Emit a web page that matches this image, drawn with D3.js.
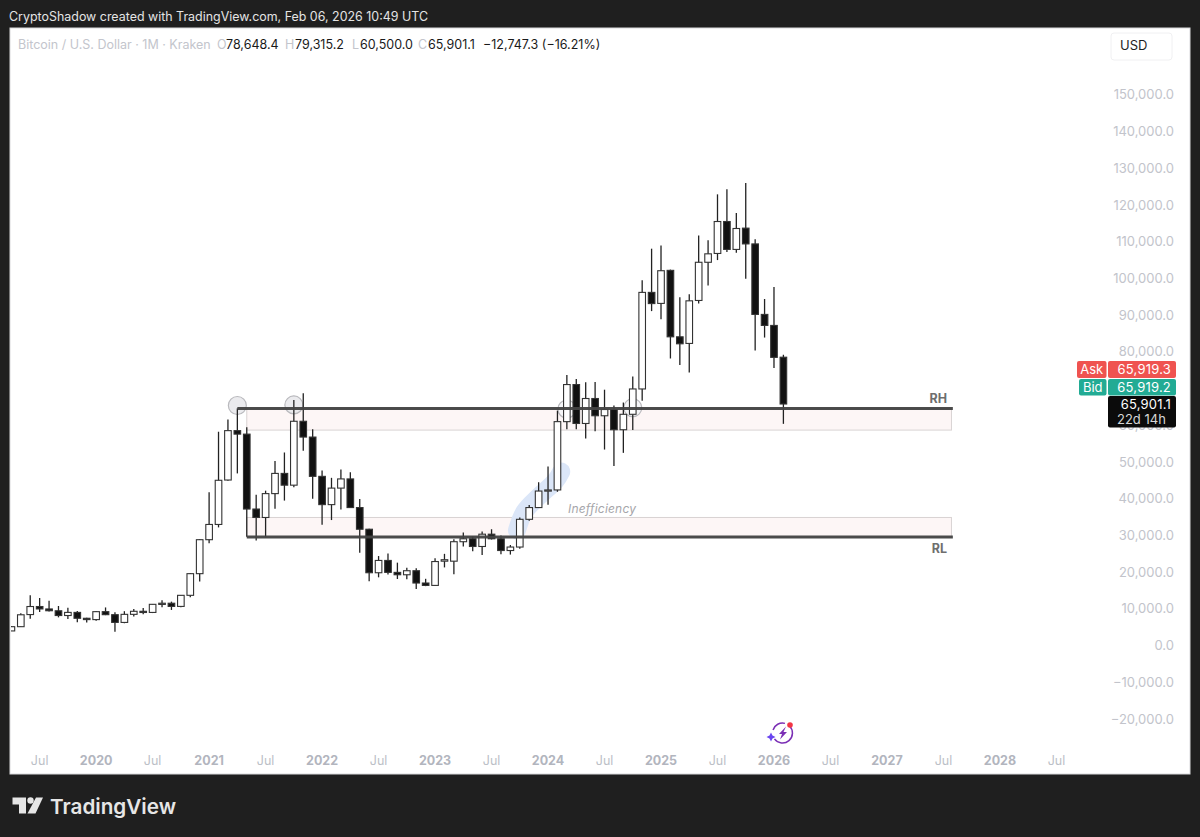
<!DOCTYPE html>
<html lang="en">
<head>
<meta charset="utf-8">
<title>Bitcoin / U.S. Dollar 1M</title>
<script src="https://d3js.org/d3.v7.min.js"></script>
<style>
  html, body { margin: 0; padding: 0; background: #1f1f1f; }
  svg { display: block; }
  text { font-family: Inter, "Noto Sans", sans-serif; }
</style>
</head>
<body>
<script>
// monthly candles, first one is Apr 2019
var open = [4100,5260,8560,10750,10090,9590,8300,9150,7550,7190,9350,8530,6420,8620,9450,9140,11350,11650,10780,13800,19700,
  28950,33100,45200,58650,57700,37300,35000,41500,47000,43800,61200,56900,
  46200,38500,43000,45500,37700,31800,19950,23300,20050,19400,20500,17150,
  16500,23100,23100,28400,29200,27100,30450,29200,26000,26950,34500,37700,
  42200,42500,61100,71200,60600,67400,62700,64400,58900,63100,70000,96300,
  93300,102300,84200,82400,94100,104500,106900,115600,108000,113800,109500,90300,
  87300,78648];
var close = [5260,8500,10750,10090,9600,8300,9150,7550,7190,9350,8530,6420,8620,9450,9140,11350,11650,10780,13800,19700,28950,
  33100,45130,58650,57700,37300,35000,41500,47000,43800,61200,56900,46200,
  38500,43000,45500,37700,31800,19950,23300,20050,19400,20500,17150,16500,
  23000,23500,28400,29200,27100,30450,29200,26000,26950,34500,37700,42200,
  42500,61100,71200,60600,67400,62700,64400,58900,63100,70000,96300,93250,
  102200,84200,82300,94000,104500,106800,115600,108000,113700,109500,90300,87300,
  78600,65901];
var high = [5450,8900,13800,13070,12300,10900,10400,9500,7700,9550,10500,9170,9480,10070,10350,11400,12440,12080,13880,19900,29100,
  41900,58350,61700,64700,59600,41200,42300,50400,52700,67000,68800,59000,
  47800,45800,48100,47300,40000,31900,24500,25200,22700,21300,21200,18300,
  23900,25100,29100,30900,29800,31200,31800,30100,27500,35000,38400,44600,
  48900,64100,73800,72700,71800,71900,69800,65500,66300,73400,99600,108200,
  109100,102500,95000,95800,111800,110500,123000,124400,117900,126100,110800,94500,
  97800,79315];
var low = [4080,5200,7430,9260,9400,7800,7350,6500,6430,6900,8400,3900,6200,8000,8650,8970,10540,9820,10530,13250,17570,
  28000,32300,45000,47000,29760,28700,29600,37400,39600,43200,53200,40100,
  33000,34300,37200,37700,25400,17600,18700,19500,18250,18200,15500,16300,
  16400,21400,19550,27100,25800,24800,29000,25000,24900,26500,34100,37600,
  38500,42000,59000,59000,56500,58500,53500,49000,52600,58800,66800,91200,
  89000,78300,76500,74500,93300,98200,105100,107300,107100,100000,80500,84000,
  75700,60500];

var priceTicks = d3.range(-20000, 150001, 10000);
var tickIndex = d3.range(3, 112, 6);
var tickLabels = ["Jul","2020","Jul","2021","Jul","2022","Jul","2023","Jul","2024","Jul","2025","Jul","2026","Jul","2027","Jul","2028","Jul"];

// drawing: levels and zones, in month index / price
var rhLevel = 64680, rlLevel = 29680;
var upperZone = [64680, 58800], lowerZone = [35000, 29680];
var zoneMonths = [25, 99.85];
var rhStart = 24, rlStart = 25, levelEnd = 100;
var touchCircles = [[24, 65500], [30, 65650], [59, 64500], [66, 64900]];
var inefficiencyPath = [[53.7, 31500], [54.5, 36570], [56, 40660], [57.8, 45000], [58.4, 47500]];

var w = 1200, h = 837;
var svg = d3.select("body").append("svg").attr("width", w).attr("height", h);

var x = d3.scaleLinear().domain([0, 82]).range([11.4, 783.4]);
var y = d3.scaleLinear().domain([0, 150000]).range([646, 95.2]);

var bodyW = 6.6;

svg.append("rect").attr("x", 10).attr("y", 28).attr("width", 1180).attr("height", 746)
  .attr("fill", "#ffffff").attr("stroke", "#d9d9dc").attr("stroke-width", 1);

// clip to the plot area
svg.append("clipPath").attr("id", "plot").append("rect")
  .attr("x", 11).attr("y", 29).attr("width", 1178).attr("height", 744);
var plot = svg.append("g").attr("clip-path", "url(#plot)");

// zones
[upperZone, lowerZone].forEach(function(z) {
  plot.append("rect")
    .attr("x", x(zoneMonths[0]))
    .attr("y", y(z[0]))
    .attr("width", x(zoneMonths[1]) - x(zoneMonths[0]))
    .attr("height", y(z[1]) - y(z[0]))
    .attr("fill", "#fdf6f6")
    .attr("stroke", "#d9d3d3")
    .attr("stroke-width", 1);
});

// blue brush behind the candles
plot.append("path")
  .attr("d", d3.line().x(function(d) { return x(d[0]); }).y(function(d) { return y(d[1]); }).curve(d3.curveCatmullRom)(inefficiencyPath))
  .attr("fill", "none").attr("stroke", "#dbe6f8").attr("stroke-width", 18)
  .attr("stroke-linecap", "round").attr("stroke-linejoin", "round");

// touch circles
plot.selectAll(".touch").data(touchCircles).enter().append("circle")
  .attr("class", "touch")
  .attr("cx", function(d) { return x(d[0]); })
  .attr("cy", function(d) { return y(d[1]); })
  .attr("r", 9)
  .attr("fill", function(d, i) { return i < 2 ? "#ebebee" : "#f6f6f8"; })
  .attr("stroke", "#b9b9bd").attr("stroke-width", 1.2);

// candles
var candles = plot.selectAll(".candle").data(open).enter().append("g").attr("class", "candle");

candles.append("line")
  .attr("x1", function(d, i) { return x(i); })
  .attr("x2", function(d, i) { return x(i); })
  .attr("y1", function(d, i) { return y(high[i]); })
  .attr("y2", function(d, i) { return y(low[i]); })
  .attr("stroke", "#222222").attr("stroke-width", 1.3);

candles.append("rect")
  .attr("x", function(d, i) { return x(i) - bodyW / 2; })
  .attr("y", function(d, i) { return y(Math.max(open[i], close[i])); })
  .attr("width", bodyW)
  .attr("height", function(d, i) { return Math.max(1.2, Math.abs(y(open[i]) - y(close[i]))); })
  .attr("fill", function(d, i) { return close[i] >= open[i] ? "#ffffff" : "#111111"; })
  .attr("stroke", "#333333").attr("stroke-width", 1.1);

// RH / RL levels
plot.append("line").attr("x1", x(rhStart)).attr("x2", x(levelEnd))
  .attr("y1", y(rhLevel)).attr("y2", y(rhLevel))
  .attr("stroke", "#434343").attr("stroke-width", 3).attr("opacity", 0.95);
plot.append("line").attr("x1", x(rlStart)).attr("x2", x(levelEnd))
  .attr("y1", y(rlLevel)).attr("y2", y(rlLevel))
  .attr("stroke", "#434343").attr("stroke-width", 3).attr("opacity", 0.95);

plot.append("text").attr("x", 947).attr("y", 402.5).attr("text-anchor", "end")
  .attr("font-size", 12.5).attr("font-weight", 700).attr("fill", "#6e6e6e").text("RH");
plot.append("text").attr("x", 947).attr("y", 552.5).attr("text-anchor", "end")
  .attr("font-size", 12.5).attr("font-weight", 700).attr("fill", "#6e6e6e").text("RL");
plot.append("text").attr("x", 568).attr("y", 513)
  .attr("font-size", 12).attr("font-style", "italic").attr("letter-spacing", 0.2).attr("fill", "#a6a6aa").text("Inefficiency");

// price axis
var yAxis = d3.axisRight(y).tickValues(priceTicks).tickSize(0)
  .tickFormat(function(d) { return d3.format(",.1f")(d).replace("-", "\u2212"); });
var yG = svg.append("g").attr("transform", "translate(1174,0)").call(yAxis);
yG.select(".domain").remove();
yG.selectAll("text").attr("x", 0).attr("dy", "0.28em").attr("text-anchor", "end")
  .attr("font-size", 13).attr("fill", "#c2c4cb").style("font-family", "Inter");

// time axis
var xAxis = d3.axisBottom(x).tickValues(tickIndex).tickSize(0)
  .tickFormat(function(d, i) { return tickLabels[i]; });
var xG = svg.append("g").attr("transform", "translate(-0.5,755)").call(xAxis);
xG.select(".domain").remove();
xG.selectAll("text").attr("y", 0).attr("dy", "0.8em")
  .attr("font-size", 12.5)
  .attr("font-weight", function(d, i) { return tickLabels[i] === "Jul" ? 400 : 700; })
  .attr("fill", function(d, i) { return tickLabels[i] === "Jul" ? "#bcbfc7" : "#b2b5be"; })
  .style("font-family", "Inter");

// header
svg.append("text").attr("x", 9).attr("y", 21).attr("font-size", 12.5).attr("fill", "#e4e4e4")
  .attr("textLength", 419).attr("lengthAdjust", "spacingAndGlyphs")
  .text("CryptoShadow created with TradingView.com, Feb 06, 2026 10:49 UTC");

// legend row
var legend = [
  [18, "Bitcoin / U.S. Dollar \u00b7 1M \u00b7 Kraken", "#c3c5cc"],
  [217, "O", "#c3c5cc"], [226, "78,648.4", "#1a1a1a"],
  [285, "H", "#c3c5cc"], [295, "79,315.2", "#1a1a1a"],
  [352, "L", "#c3c5cc"], [360, "60,500.0", "#1a1a1a"],
  [418, "C", "#c3c5cc"], [428, "65,901.1", "#1a1a1a"],
  [483, "\u221212,747.3 (\u221216.21%)", "#1a1a1a"]
];
svg.selectAll(".legend").data(legend).enter().append("text").attr("class", "legend")
  .attr("x", function(d) { return d[0]; }).attr("y", 49)
  .attr("font-size", 12.5).attr("fill", function(d) { return d[2]; })
  .text(function(d) { return d[1]; });

// USD button
svg.append("rect").attr("x", 1111).attr("y", 33).attr("width", 61).attr("height", 27).attr("rx", 3)
  .attr("fill", "#ffffff").attr("stroke", "#f0f0f2");
svg.append("text").attr("x", 1120).attr("y", 50).attr("font-size", 13).attr("fill", "#1f1f1f").text("USD");

// price tags
var tags = [
  {x: 1077, w: 29.5, yy: 361, hh: 17, c: "#ef5350", label: "Ask", val: "65,919.3"},
  {x: 1079, w: 27.5, yy: 379, hh: 16.5, c: "#22ab94", label: "Bid", val: "65,919.2"}
];
tags.forEach(function(t) {
  svg.append("rect").attr("x", t.x).attr("y", t.yy).attr("width", t.w).attr("height", t.hh).attr("rx", 2).attr("fill", t.c);
  svg.append("rect").attr("x", 1108).attr("y", t.yy).attr("width", 68).attr("height", t.hh).attr("rx", 2).attr("fill", t.c);
  svg.append("text").attr("x", t.x + t.w / 2).attr("y", t.yy + 13).attr("text-anchor", "middle")
    .attr("font-size", 13).attr("fill", "#ffffff").text(t.label);
  svg.append("text").attr("x", 1171).attr("y", t.yy + 13).attr("text-anchor", "end")
    .attr("font-size", 13).attr("letter-spacing", 0.2).attr("fill", "#ffffff").text(t.val);
});
svg.append("rect").attr("x", 1108).attr("y", 396).attr("width", 68).attr("height", 31.5).attr("rx", 2).attr("fill", "#0b0b0b");
svg.append("text").attr("x", 1171).attr("y", 408.5).attr("text-anchor", "end")
  .attr("font-size", 13).attr("letter-spacing", 0.2).attr("fill", "#ffffff").text("65,901.1");
svg.append("text").attr("x", 1117).attr("y", 423.5)
  .attr("font-size", 13).attr("fill", "#d6d6d6").text("22d 14h");

// sparkle badge
var badge = svg.append("g").attr("transform", "translate(782.5,733)");
var ring = d3.arc().innerRadius(9.2).outerRadius(10.7);
badge.append("path").attr("d", ring({startAngle: 0.25 * Math.PI, endAngle: 1.3 * Math.PI})).attr("fill", "#7b2fb5");
badge.append("path").attr("d", ring({startAngle: 1.6 * Math.PI, endAngle: 2.08 * Math.PI})).attr("fill", "#7b2fb5");
badge.append("path").attr("d", "M3.5,-6.5 L-3.5,1 L-0.5,1 L-2.5,6.5 L4.5,-1 L1,-1 Z").attr("fill", "#7b2fb5");
badge.append("path").attr("d", "M-11.5,-0.5 L-10,2.5 L-7,4 L-10,5.5 L-11.5,8.5 L-13,5.5 L-16,4 L-13,2.5 Z").attr("fill", "#6a45f0");
badge.append("circle").attr("cx", 7.5).attr("cy", -8).attr("r", 2.8).attr("fill", "#f23645");

// footer logo
var logo = svg.append("g").attr("fill", "#e6e6e6");
logo.append("path").attr("d", "M12.5,797.5 H26 V813.5 H19 V804.5 H12.5 Z");
logo.append("circle").attr("cx", 30.5).attr("cy", 800.5).attr("r", 3.2);
logo.append("path").attr("d", "M36,797.5 H43 L35.5,813.5 H27.5 Z");
svg.append("text").attr("x", 50).attr("y", 813.5).attr("font-size", 20.7).attr("font-weight", 600)
  .attr("fill", "#e6e6e6").text("TradingView");
</script>
</body>
</html>
